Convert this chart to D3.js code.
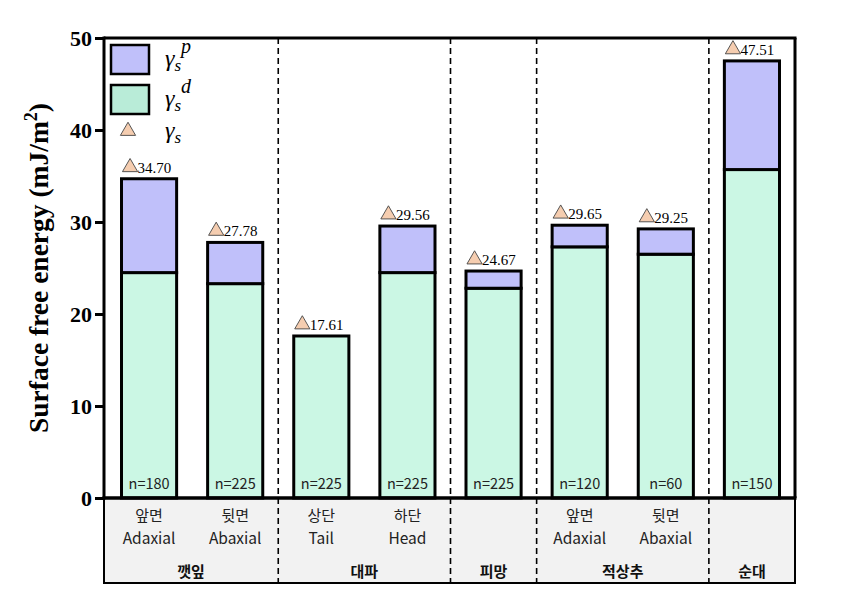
<!DOCTYPE html>
<html><head><meta charset="utf-8">
<script src="https://cdn.jsdelivr.net/npm/d3@7"></script>
<style>body{margin:0;background:#fff}svg{display:block}</style>
</head><body><svg id="c" width="846" height="590"></svg>
<script>
const categories = ["앞면|Adaxial","뒷면|Abaxial","상단|Tail","하단|Head","피망","앞면 |Adaxial","뒷면 |Abaxial","순대"];
const groups = [
  {name:"깻잎", from:0, to:2},
  {name:"대파", from:2, to:4},
  {name:"피망", from:4, to:5},
  {name:"적상추", from:5, to:7},
  {name:"순대", from:7, to:8}
];
const dispersive = [24.5, 23.3, 17.61, 24.5, 22.8, 27.3, 26.5, 35.7];
const totals = [34.70, 27.78, 17.61, 29.56, 24.67, 29.65, 29.25, 47.51];
const nLabels = ["n=180","n=225","n=225","n=225","n=225","n=120","n=60","n=150"];
const yTicks = [0,10,20,30,40,50];

const svg = d3.select("#c");
const L=104, R=795, T=38, B=498, PB=583;
const x = d3.scaleBand().domain(d3.range(categories.length)).range([L+2,R]).paddingInner(0.36).paddingOuter(0.18);
const y = d3.scaleLinear().domain([0,50]).range([B,T]);

const rows = categories.map((c,i)=>({i, disp:dispersive[i], polar:Math.max(0,totals[i]-dispersive[i])}));
const stack = d3.stack().keys(["disp","polar"])(rows);
const fills = {disp:"#cbf7e4", polar:"#c0c0fa"};

// bottom panel
svg.append("rect").attr("x",L).attr("y",B).attr("width",R-L).attr("height",PB-B)
  .attr("fill","#f2f2f2").attr("stroke","#000").attr("stroke-width",2);

// bars
stack.forEach(s=>{
  svg.append("g").selectAll("rect").data(s.filter(d=>d[1]-d[0]>0.01)).join("rect")
    .attr("x",d=>x(d.data.i)).attr("width",x.bandwidth())
    .attr("y",d=>y(d[1])).attr("height",d=>y(d[0])-y(d[1]))
    .attr("fill",fills[s.key]).attr("stroke","#000").attr("stroke-width",3);
});

// group separators (dashed)
const bandStep = x.step();
groups.slice(1).forEach(g=>{
  const xx = x(g.from) - x.paddingInner()*bandStep/2;
  svg.append("line").attr("x1",xx).attr("x2",xx).attr("y1",T).attr("y2",PB)
    .attr("stroke","#000").attr("stroke-width",1.6).attr("stroke-dasharray","6,4");
});

// frame: top, right
svg.append("line").attr("x1",L).attr("x2",R+1.5).attr("y1",T).attr("y2",T).attr("stroke","#000").attr("stroke-width",3);
svg.append("line").attr("x1",R).attr("x2",R).attr("y1",T).attr("y2",B).attr("stroke","#000").attr("stroke-width",3);
svg.append("line").attr("x1",L-1.5).attr("x2",R+1.5).attr("y1",B).attr("y2",B).attr("stroke","#000").attr("stroke-width",3.5);

const serif = "'Liberation Serif', 'Times New Roman', serif";
// y axis
const ya = svg.append("g").attr("transform",`translate(${L},0)`)
  .call(d3.axisLeft(y).tickValues(yTicks).tickSize(9).tickPadding(3));
ya.select(".domain").attr("stroke-width",3).attr("d",`M0,${T-1.5}V${B+1.5}`);
ya.selectAll(".tick line").attr("stroke-width",3);
ya.selectAll("text").attr("font-family",serif).attr("font-weight","bold").attr("font-size",22).attr("fill","#000");

const yl = svg.append("text").attr("transform",`translate(48,268) rotate(-90)`).attr("text-anchor","middle")
  .attr("font-family",serif).attr("font-weight","bold").attr("font-size",27.5);
yl.append("tspan").text("Surface free energy (mJ/m");
yl.append("tspan").attr("font-size",18).attr("dy",-11).text("2");
yl.append("tspan").attr("dy",11).text(")");

// triangle + total labels
const tri = d3.symbol(d3.symbolTriangle, 100);
totals.forEach((t,i)=>{
  const cx = x(i)+x.bandwidth()/2, ty = y(t);
  svg.append("path").attr("d",tri()).attr("transform",`translate(${cx-19},${ty-11.5})`)
    .attr("fill","#f5cdb0").attr("stroke","#444").attr("stroke-width",0.9);
  svg.append("text").attr("x",cx-11.5).attr("y",ty-6).attr("font-family",serif)
    .attr("font-size",15).attr("fill","#000").text(t.toFixed(2));
});

// n labels
const sans = "'Noto Sans CJK KR', 'Noto Sans', sans-serif";
nLabels.forEach((n,i)=>{
  svg.append("text").attr("x",x(i)+x.bandwidth()/2).attr("y",B-9).attr("text-anchor","middle")
    .attr("font-family",sans).attr("font-size",14.5).attr("fill","#222").text(n);
});

// category labels
categories.forEach((c,i)=>{
  const parts = c.split("|");
  if(parts.length<2) return;
  const cx = x(i)+x.bandwidth()/2;
  svg.append("text").attr("x",cx).attr("y",521).attr("text-anchor","middle").attr("font-family",sans).attr("font-size",15).attr("fill","#222").text(parts[0].trim());
  svg.append("text").attr("x",cx).attr("y",544).attr("text-anchor","middle").attr("font-family",sans).attr("font-size",15.5).attr("fill","#222").text(parts[1]);
});
groups.forEach(g=>{
  const x0 = g.from===0 ? L : x(g.from) - x.paddingInner()*bandStep/2;
  const x1 = g.to===categories.length ? R : x(g.to) - x.paddingInner()*bandStep/2;
  svg.append("text").attr("x",(x0+x1)/2).attr("y",577).attr("text-anchor","middle").attr("font-family",sans)
    .attr("font-weight","bold").attr("font-size",15).attr("fill","#111").text(g.name);
});

// legend
const lg = svg.append("g");
[["polar",45],["disp",85]].forEach(([k,yy])=>{
  lg.append("rect").attr("x",111).attr("y",yy).attr("width",38).attr("height",29)
    .attr("fill",k==="polar"?"#c0c0fa":"#b9ecd8").attr("stroke","#000").attr("stroke-width",2.5);
});
lg.append("path").attr("d",tri()).attr("transform","translate(128,131)").attr("fill","#f5cdb0").attr("stroke","#444").attr("stroke-width",0.9);
function gam(yb, sup){
  const t = lg.append("text").attr("x",165).attr("y",yb).attr("font-family",serif).attr("font-style","italic").attr("font-size",24).attr("fill","#000");
  t.append("tspan").text("γ");
  t.append("tspan").attr("font-size",17).attr("dy",5).text("s");
  if(sup) t.append("tspan").attr("font-size",20).attr("dy",-18).text(sup);
}
gam(66,"p");
gam(106,"d");
gam(138,null);
</script></body></html>
